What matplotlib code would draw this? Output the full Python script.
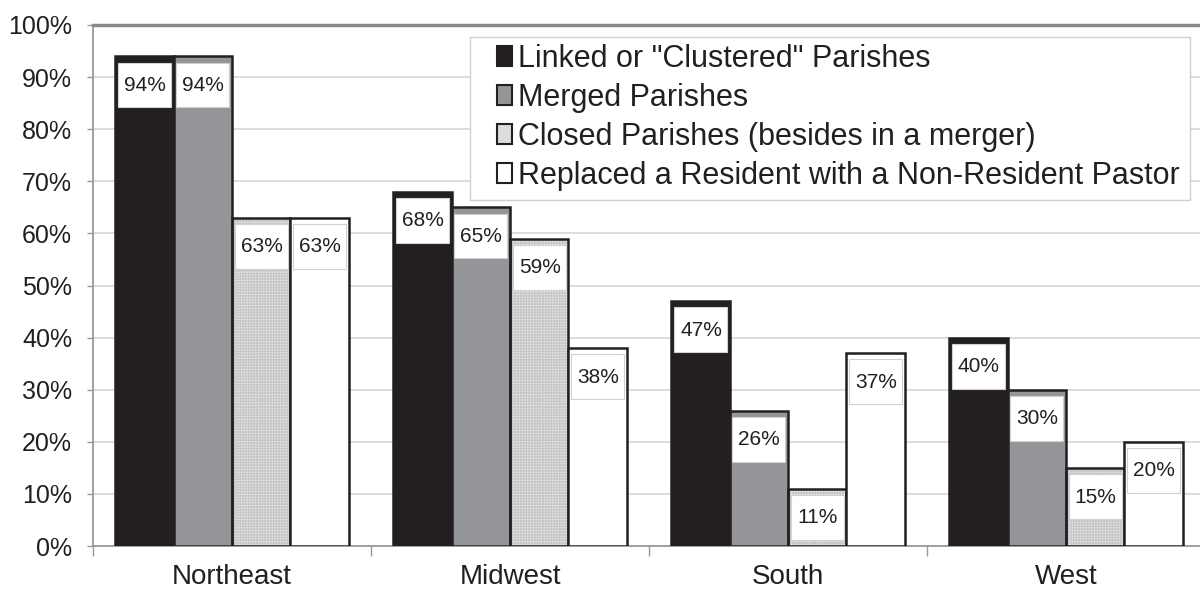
import numpy as np
import matplotlib.pyplot as plt
from matplotlib.patches import Rectangle, Patch

plt.rcParams['font.family'] = ['Liberation Sans', 'DejaVu Sans']

regiones = ['Northeast', 'Midwest', 'South', 'West']
series = ['Linked or "Clustered" Parishes', 'Merged Parishes',
          'Closed Parishes (besides in a merger)',
          'Replaced a Resident with a Non-Resident Pastor']
linked = [94, 68, 47, 40]
merged = [94, 65, 26, 30]
closed = [63, 59, 11, 15]
replaced = [63, 38, 37, 20]
valores = [linked, merged, closed, replaced]

colores = ['#231f20', '#939598', '#e6e6e6', '#ffffff']
texto = '#231f20'

W, H = 1200, 597
fig = plt.figure(figsize=(W / 100, H / 100), dpi=100)
ax = fig.add_axes([93 / W, 51 / H, 1112 / W, 521 / H])

x = np.arange(len(regiones))
ancho = 0.21

for i, vals in enumerate(valores):
    pos = x + (i - 1.5) * ancho
    if i == 2:
        # textura punteada del gris claro
        ax.bar(pos, vals, ancho, color='#ececec', hatch='++++++',
               edgecolor='#c8c8c8', linewidth=0, zorder=2)
        ax.bar(pos, vals, ancho, fill=False, edgecolor='#231f20',
               linewidth=1.8, zorder=3)
    else:
        ax.bar(pos, vals, ancho, color=colores[i], edgecolor='#231f20',
               linewidth=1.8, zorder=3)
    # cajitas blancas con el valor
    for px, v in zip(pos, vals):
        caja = Rectangle((px - ancho / 2 + 0.009, v - 9.8), ancho - 0.018, 8.6,
                         facecolor='white', edgecolor='#d0d0d0', linewidth=0.8,
                         zorder=4)
        ax.add_patch(caja)
        ax.text(px + 0.002, v - 5.6, f'{v}%', ha='center', va='center',
                fontsize=15, color=texto, zorder=5)

ax.set_xlim(-0.5, 3.5)
ax.set_ylim(0, 100)
ax.set_yticks(np.arange(0, 101, 10))
ax.set_yticklabels([f'{t}%' for t in range(0, 101, 10)], fontsize=18, color=texto)
ax.yaxis.grid(True, color='#d2d2d2', linewidth=1.1, zorder=0)
ax.set_axisbelow(True)

ax.set_xticks(np.arange(-0.5, 4, 1))
ax.set_xticklabels([])
ax.set_xticks(x, minor=True)
ax.set_xticklabels(regiones, minor=True, fontsize=20, color=texto)
ax.tick_params(axis='x', which='major', length=7, color='#999999', width=1)
ax.tick_params(axis='x', which='minor', length=0, pad=13)
ax.tick_params(axis='y', length=4.5, color='#999999', width=1, pad=10.5)

for lado in ['left', 'bottom']:
    ax.spines[lado].set_color('#999999')
    ax.spines[lado].set_linewidth(1.3)
ax.spines['top'].set_color('#8a8a8a')
ax.spines['top'].set_linewidth(2.5)
ax.spines['right'].set_visible(False)

# leyenda: marco dibujado aparte
def px2ax(px, py):
    return (px - 93) / 1112, (546 - py) / 521

x0, y0 = px2ax(470, 200)
x1, y1 = px2ax(1190, 37)
ax.add_patch(Rectangle((x0, y0), x1 - x0, y1 - y0, transform=ax.transAxes,
                       facecolor='white', edgecolor='#d0d0d0', linewidth=1.0,
                       zorder=6))

manijas = [Patch(facecolor=c, edgecolor='#231f20', linewidth=1.5)
           for c in ['#231f20', '#939598', '#dcdcdc', '#ffffff']]
lx, ly = px2ax(494, 41)
leg = ax.legend(manijas, series, loc='upper left', bbox_to_anchor=(lx, ly),
                fontsize=22, handlelength=0.48, handleheight=0.62,
                handletextpad=0.22, labelspacing=0.29, borderpad=0.1,
                borderaxespad=0, frameon=False)
leg.set_zorder(7)
for t in leg.get_texts():
    t.set_color(texto)

fig.savefig('out.png', dpi=100)
